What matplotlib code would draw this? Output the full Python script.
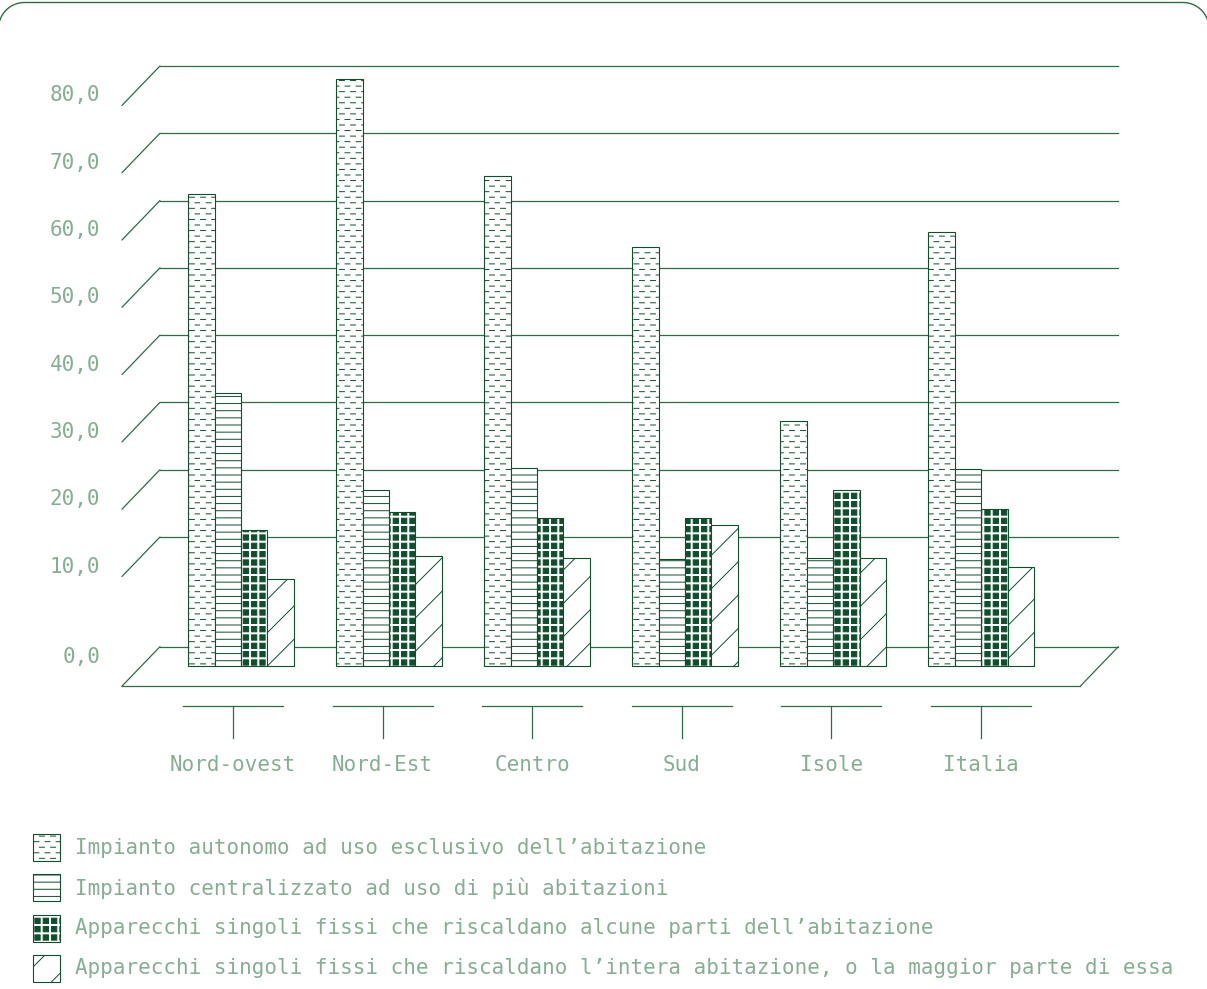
import warnings
import numpy as np
import matplotlib
matplotlib.use("Agg")
import matplotlib.pyplot as plt
from matplotlib import hatch as mhatch
from matplotlib.path import Path
from matplotlib.patches import Rectangle, ConnectionPatch
from matplotlib.lines import Line2D
from matplotlib.transforms import offset_copy, IdentityTransform

warnings.filterwarnings("ignore")

regions = ["Nord-ovest", "Nord-Est", "Centro", "Sud", "Isole", "Italia"]
series_names = [
    "Impianto autonomo ad uso esclusivo dell’abitazione",
    "Impianto centralizzato ad uso di più abitazioni",
    "Apparecchi singoli fissi che riscaldano alcune parti dell’abitazione",
    "Apparecchi singoli fissi che riscaldano l’intera abitazione, o la maggior parte di essa",
]
autonomo = [63.9, 81.0, 66.5, 56.0, 30.1, 58.2]
centralizzato = [34.3, 19.9, 23.2, 9.7, 9.8, 23.0]
singoli_parti = [13.9, 16.6, 15.7, 15.7, 19.9, 17.0]
singoli_intera = [6.6, 10.1, 9.8, 14.7, 9.8, 8.4]
yticks = [0, 10, 20, 30, 40, 50, 60, 70, 80]

DARK = "#0f4f2c"
GRID = "#2f6b47"
TXT = "#86ae93"


# patterns of the original: dashed rows, fine lines, dark squares
class DashRows(mhatch.HatchPatternBase):
    rows, per_row, frac = 18, 9, 0.45

    def __init__(self, hatch, density):
        self.num_vertices = 2 * self.rows * self.per_row if 'd' in hatch else 0

    def set_vertices_and_codes(self, vertices, codes):
        k = 0
        for r in range(self.rows):
            y = (r + 0.5) / self.rows
            shift = 0.5 * (r % 2) + 0.05
            for c in range(self.per_row):
                x0 = (c + shift) / self.per_row
                vertices[k] = (x0, y)
                vertices[k + 1] = (x0 + self.frac / self.per_row, y)
                codes[k] = Path.MOVETO
                codes[k + 1] = Path.LINETO
                k += 2


class FineLines(mhatch.HatchPatternBase):
    n = 14

    def __init__(self, hatch, density):
        self.num_vertices = 2 * self.n if 'h' in hatch else 0

    def set_vertices_and_codes(self, vertices, codes):
        ys = (np.arange(self.n) + 0.5) / self.n
        vertices[0::2, 0] = 0.0
        vertices[0::2, 1] = ys
        vertices[1::2, 0] = 1.0
        vertices[1::2, 1] = ys
        codes[0::2] = Path.MOVETO
        codes[1::2] = Path.LINETO


class Squares(mhatch.HatchPatternBase):
    n, side = 12, 0.053

    def __init__(self, hatch, density):
        self.num_vertices = 5 * self.n * self.n if 'q' in hatch else 0

    def set_vertices_and_codes(self, vertices, codes):
        k = 0
        s = self.side
        for i in range(self.n):
            for j in range(self.n):
                cx, cy = (i + 0.5) / self.n, (j + 0.5) / self.n
                vertices[k:k + 5] = [(cx - s / 2, cy - s / 2), (cx + s / 2, cy - s / 2),
                                     (cx + s / 2, cy + s / 2), (cx - s / 2, cy + s / 2),
                                     (cx - s / 2, cy - s / 2)]
                codes[k:k + 5] = [Path.MOVETO, Path.LINETO, Path.LINETO,
                                  Path.LINETO, Path.CLOSEPOLY]
                k += 5


mhatch._hatch_types.extend([DashRows, FineLines, Squares])
plt.rcParams['hatch.linewidth'] = 0.7
plt.rcParams['font.family'] = ['DejaVu Sans Mono']

hatches = ['d', 'h', 'q', '/']
values = [autonomo, centralizzato, singoli_parti, singoli_intera]

fig = plt.figure(figsize=(12.07, 9.89), dpi=100)
ax = fig.add_axes([0, 0, 1, 1])
# x: one unit per region (148 px), y: value units (6.73 px)
ax.set_xlim(-241.0 / 148.03, (1207 - 241.0) / 148.03)
ax.set_ylim(-54.27, 92.70)
ax.axis('off')

back = offset_copy(ax.transData, fig, x=19, y=19.5, units='dots')
front = offset_copy(ax.transData, fig, x=-19, y=-20, units='dots')

v_floor = -6.3
xl, xr = -0.676, 5.798

# back wall gridlines + left wall diagonals
for v in yticks[1:]:
    ax.plot([xl, xr], [v, v], color=GRID, lw=0.9, transform=back, zorder=1)
    ax.add_artist(ConnectionPatch((xl, v), (xl, v), coordsA=back, coordsB=front,
                                  color=GRID, lw=0.9, zorder=1))

# floor
ax.plot([xl, xr], [v_floor, v_floor], color=GRID, lw=0.9, transform=back, zorder=1)
ax.plot([xl, xr], [v_floor, v_floor], color=GRID, lw=0.9, transform=front, zorder=1)
for xx in (xl, xr):
    ax.add_artist(ConnectionPatch((xx, v_floor), (xx, v_floor), coordsA=back,
                                  coordsB=front, color=GRID, lw=0.9, zorder=1))

# bars
x = np.arange(len(regions))
w = 0.1784
for k, (vals, h) in enumerate(zip(values, hatches)):
    vals = np.array(vals)
    ax.bar(x + (k - 1.5) * w, vals - v_floor, bottom=v_floor, width=w,
           facecolor='white', edgecolor=DARK, hatch=h, lw=0.8, zorder=3)

# y labels
lab_x = (100 - 241.0) / 148.03
lab_tr = offset_copy(ax.transData, fig, x=0, y=-10, units='dots')
for v in yticks:
    if v == 0:
        ax.text(lab_x, v_floor, "0,0", ha='right', va='center', fontsize=15,
                color=TXT, transform=offset_copy(ax.transData, fig, x=0, y=9, units='dots'))
    else:
        ax.text(lab_x, v, f"{v:.1f}".replace('.', ','), ha='right', va='center',
                fontsize=15, color=TXT, transform=lab_tr)

# category T-ticks and labels
xt = ax.get_xaxis_transform()
tick_x = (233 - 241.0) / 148.03 + 149.6 / 148.03 * x
for tx, name in zip(tick_x, regions):
    ax.plot([tx - 0.338, tx + 0.338], [0.2861, 0.2861], color=GRID, lw=0.9, transform=xt)
    ax.plot([tx, tx], [0.2861, 0.2538], color=GRID, lw=0.9, transform=xt)
    ax.text(tx, 0.2265, name, ha='center', va='center', fontsize=15, color=TXT, transform=xt)

# legend
H = 989
for k, (name, h) in enumerate(zip(series_names, hatches)):
    yc = 847.5 + k * 40.3
    fig.add_artist(Rectangle((33, H - yc - 13.5), 27, 27, facecolor='white',
                             edgecolor=DARK, hatch=h, lw=0.8,
                             transform=IdentityTransform()))
    fig.text(75 / 1207, 1 - yc / H, name, ha='left', va='center', fontsize=15, color=TXT)

# rounded frame (polyline, sides just off the picture)
r = 26
top = H - 2.5
x0, x1 = -1.5, 1209.0
t = np.linspace(0, np.pi / 2, 30)
left_arc = np.column_stack([x0 + r - r * np.cos(t), top - r + r * np.sin(t)])
right_arc = np.column_stack([x1 - r + r * np.sin(t), top - r + r * np.cos(t)])
pts = np.vstack([[x0, 0], left_arc, right_arc, [x1, 0]])
fig.add_artist(Line2D(pts[:, 0], pts[:, 1], color=GRID, lw=1.0,
                      transform=IdentityTransform()))

fig.savefig("out.png", dpi=100)
